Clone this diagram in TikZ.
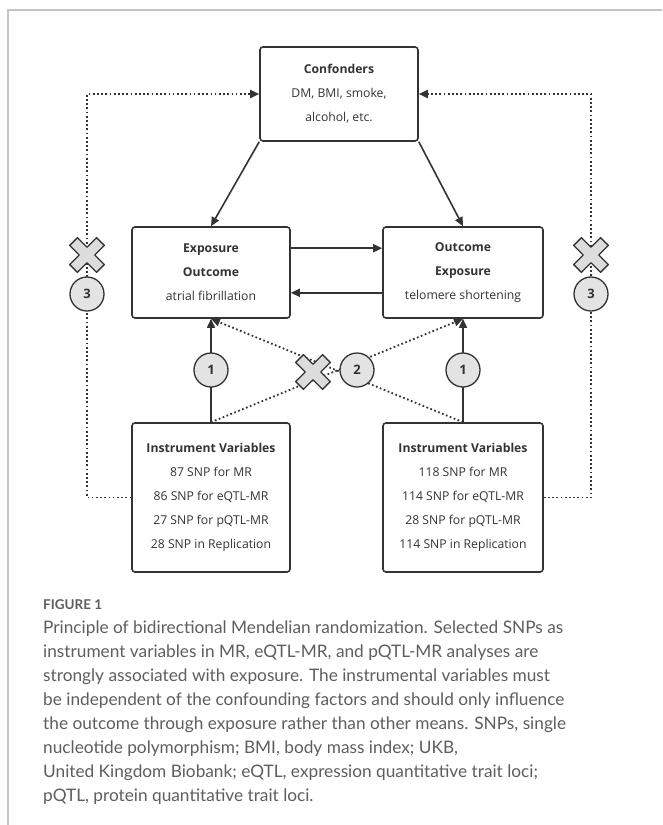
\documentclass[tikz,border=0pt]{standalone}
\usepackage{fontspec}
\setmainfont{Open Sans}
\newfontfamily\capfont{Lato}
\usetikzlibrary{arrows.meta,calc}
\definecolor{ink}{HTML}{333333}
\definecolor{circfill}{HTML}{E3E3E3}
\definecolor{xfill}{HTML}{DCDCDC}
\definecolor{capgray}{HTML}{5E5E5E}
\definecolor{framegray}{HTML}{C4C4C4}
\newcommand{\xmarkshape}[1]{%
  \draw[xshape, shift={(#1)}, rotate=45]
    (-5.5,-19) -- (5.5,-19) -- (5.5,-5.5) -- (19,-5.5) -- (19,5.5) -- (5.5,5.5)
    -- (5.5,19) -- (-5.5,19) -- (-5.5,5.5) -- (-19,5.5) -- (-19,-5.5) -- (-5.5,-5.5) -- cycle;}
\begin{document}
\begin{tikzpicture}[x=1pt,y=-1pt,
  box/.style={draw=ink, line width=1.6pt, rounded corners=3pt, fill=white,
    minimum width=158pt, align=center, font=\fontsize{12.2}{24}\selectfont,
    text=ink, inner sep=0pt},
  num/.style={circle, draw=ink, line width=1.3pt, fill=circfill, minimum size=34pt,
    inner sep=0pt, font=\bfseries\fontsize{13}{13}\selectfont, text=ink},
  solidarrow/.style={draw=ink, line width=1.6pt, -{Triangle[length=9pt,width=8pt]}},
  dotline/.style={draw=ink, line width=1.8pt, dash pattern=on 1.7pt off 2.5pt},
  dotarrow/.style={dotline, -{Triangle[length=9pt,width=8pt]}},
  xshape/.style={draw=ink, line width=1.3pt, fill=xfill, line join=round},
  captxt/.style={anchor=base west, inner sep=0pt, text=capgray,
    font=\capfont\fontsize{17.25}{24}\selectfont},
  caphead/.style={anchor=base west, inner sep=0pt, text=capgray,
    font=\capfont\bfseries\fontsize{13.5}{16}\selectfont},
]
\useasboundingbox (0,0) rectangle (662,825);
\fill[white] (0,0) rectangle (662,825);
\draw[framegray, line width=1.5pt] (8,825) -- (8,10) -- (662,10);

% boxes
\node[box, minimum height=94pt] (conf) at (339,94)
  {\textbf{Confonders}\\DM, BMI, smoke,\\alcohol, etc.};
\node[box, minimum height=91pt] (expo) at (211,272.5)
  {\textbf{Exposure}\\\textbf{Outcome}\\atrial fibrillation};
\node[box, minimum height=91pt, minimum width=160pt] (outc) at (463,272.5)
  {\textbf{Outcome}\\\textbf{Exposure}\\telomere shortening};
\node[box, minimum height=149pt] (ivl) at (211,497.5)
  {\textbf{Instrument Variables}\\87 SNP for MR\\86 SNP for eQTL-MR\\27 SNP for pQTL-MR\\28 SNP in Replication};
\node[box, minimum height=149pt, minimum width=160pt] (ivr) at (463,497.5)
  {\textbf{Instrument Variables}\\118 SNP for MR\\114 SNP for eQTL-MR\\28 SNP for pQTL-MR\\114 SNP in Replication};

% helper coordinates
\coordinate (ll) at (87,497.5);
\coordinate (lu) at (87,94);
\coordinate (rl) at (591,497.5);
\coordinate (ru) at (591,94);
\coordinate (xl) at (87,255);
\coordinate (xr) at (591,255);
\coordinate (xm) at (313,372);

% confounder arrows
\draw[solidarrow] (conf.south west) -- (expo.north);
\draw[solidarrow] (conf.south east) -- (outc.north);
% bidirectional arrows
\draw[solidarrow] ($(expo.north east)+(0,22)$) -- ($(outc.north west)+(0,22)$);
\draw[solidarrow] ($(outc.south west)+(0,-26)$) -- ($(expo.south east)+(0,-26)$);

% side dotted paths
\draw[dotarrow] (ivl.west) -- (ll) -- (lu) -- (conf.west);
\draw[dotarrow] (ivr.east) -- (rl) -- (ru) -- (conf.east);

% diagonal dotted
\draw[dotarrow] (ivl.north) -- (outc.south);
\draw[dotarrow] (ivr.north) -- (expo.south);

% vertical IV arrows
\draw[solidarrow] (ivl.north) -- (expo.south);
\draw[solidarrow] (ivr.north) -- (outc.south);

% crosses
\xmarkshape{xl}
\xmarkshape{xr}
\xmarkshape{xm}

% numbered circles
\node[num] (c1l) at (211,370) {1};
\node[num] (c1r) at (463,370) {1};
\node[num] (c2) at (357,370) {2};
\node[num] (c3l) at (87,294) {3};
\node[num] (c3r) at (591,294) {3};

% caption
\node[caphead] (fig) at (43,609) {FIGURE 1};
\node[captxt] (cap1) at (43,633) {Principle of bidirectional Mendelian randomization. Selected SNPs as};
\node[captxt] (cap2) at (43,657) {instrument variables in MR, eQTL-MR, and pQTL-MR analyses are};
\node[captxt] (cap3) at (43,681) {strongly associated with exposure. The instrumental variables must};
\node[captxt] (cap4) at (43,705) {be independent of the confounding factors and should only influence};
\node[captxt] (cap5) at (43,729) {the outcome through exposure rather than other means. SNPs, single};
\node[captxt] (cap6) at (43,753) {nucleotide polymorphism; BMI, body mass index; UKB,};
\node[captxt] (cap7) at (43,777) {United Kingdom Biobank; eQTL, expression quantitative trait loci;};
\node[captxt] (cap8) at (43,801) {pQTL, protein quantitative trait loci.};
\end{tikzpicture}
\end{document}
